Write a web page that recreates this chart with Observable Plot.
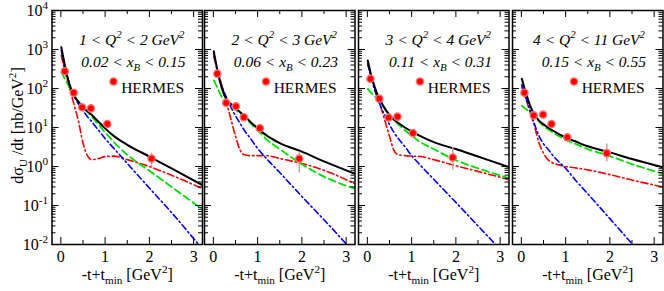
<!DOCTYPE html>
<html><head><meta charset="utf-8">
<script src="https://cdn.jsdelivr.net/npm/d3@7"></script>
<script src="https://cdn.jsdelivr.net/npm/@observablehq/plot@0.6"></script>
<style>
html,body{margin:0;padding:0;background:#fff;}
#chart{position:relative;width:664px;height:291px;overflow:hidden;background:#fff;}
#chart svg{position:absolute;top:0;}
#chart svg text{font-family:"Liberation Serif","Times New Roman",serif;}
</style></head><body><div id="chart"></div>
<script>
// ---------- data ----------
const tGrid = [0.01, 0.1, 0.2, 0.3, 0.4, 0.5, 0.6, 0.7, 0.85, 1.0, 1.2, 1.5, 2.0, 2.5, 3.2];

const q2Labels = ["1 < Q^{2} < 2 GeV^{2}", "2 < Q^{2} < 3 GeV^{2}", "3 < Q^{2} < 4 GeV^{2}", "4 < Q^{2} < 11 GeV^{2}"];
const xbLabels = ["0.02 < x_{B} < 0.15", "0.06 < x_{B} < 0.23", "0.11 < x_{B} < 0.31", "0.15 < x_{B} < 0.55"];

// solid black curve
const total1 = [1150, 350, 120, 65, 45, 34, 26, 21, 14, 9.5, 6, 3.6, 1.8, 0.9, 0.33];
const total2 = [900, 260, 95, 52, 40, 32, 25, 20, 13.5, 9.5, 6.3, 4.0, 2.4, 1.35, 0.65];
const total3 = [520, 190, 85, 48, 30, 21, 16, 13, 10, 8, 6, 4.2, 2.8, 1.8, 0.97];
const total4 = [178, 80, 36, 21, 15, 12, 10, 8.5, 6.8, 5.5, 4.5, 3.3, 2.3, 1.55, 0.95];
// green dashed curve
const green1 = [260, 170, 105, 68, 46, 34, 25, 19, 12, 7.5, 4.2, 2.0, 0.78, 0.3, 0.08];
const green2 = [160, 100, 58, 44, 36, 29, 23, 18, 12.5, 8.5, 5, 2.8, 1.15, 0.55, 0.27];
const green3 = [98, 75, 57, 42, 30, 21, 15.5, 12, 8.5, 6.2, 4.2, 2.8, 1.45, 0.9, 0.5];
const green4 = [36, 30, 23, 18.5, 14, 11, 9, 7.6, 6, 4.8, 3.9, 2.8, 1.85, 1.15, 0.65];
// blue dash-dotted curve
const blue1 = [950, 300, 130, 65, 40, 27, 19, 14, 8.5, 5.2, 2.9, 1.2, 0.28, 0.066, 0.0075];
const blue2 = [800, 250, 110, 58, 33, 20, 13, 8.5, 5, 2.9, 1.6, 0.7, 0.17, 0.043, 0.0058];
const blue3 = [430, 160, 70, 35, 20, 12, 7.5, 5.2, 3.2, 1.9, 1.07, 0.47, 0.12, 0.03, 0.0043];
const blue4 = [125, 60, 27, 12, 6, 3.8, 2.8, 2.0, 1.3, 0.9, 0.48, 0.2, 0.046, 0.0105, 0.0014];
// red dash-dotted curve
const red1 = [700, 260, 100, 38, 14, 4, 1.9, 1.5, 1.6, 1.8, 1.85, 1.5, 1.0, 0.6, 0.27];
const red2 = [650, 290, 110, 42, 16, 6, 2.7, 2.0, 1.9, 1.9, 1.9, 1.6, 1.2, 0.8, 0.36];
const red3 = [400, 195, 82, 35, 14.5, 6, 2.6, 2.0, 1.9, 1.85, 1.8, 1.5, 1.05, 0.75, 0.46];
const red4 = [110, 55, 24, 10.5, 4, 2.2, 1.5, 1.25, 1.1, 1.0, 0.93, 0.82, 0.62, 0.45, 0.3];

// HERMES points
const hermesT1 = [0.09, 0.29, 0.48, 0.68, 1.05, 2.05];
const hermesV1 = [277, 78, 33, 31, 12.3, 1.6];
const hermesT2 = [0.09, 0.29, 0.51, 0.69, 1.05, 1.94];
const hermesV2 = [240, 43, 35, 18.3, 9.6, 1.6];
const hermesT3 = [0.07, 0.27, 0.48, 0.68, 1.03, 1.93];
const hermesV3 = [178, 55, 18, 19, 7.2, 1.7];
const hermesT4 = [0.07, 0.28, 0.49, 0.68, 1.04, 1.93];
const hermesV4 = [78, 20.5, 21.5, 12.3, 5.6, 2.2];
// error bars (low, high) of the last point in each panel
const errLow = [0.96, 0.68, 0.8, 1.3];
const errHigh = [2.2, 2.35, 3.1, 3.8];

// axis ticks
const xMajorTicks = [0, 1, 2, 3];
const xMinorTicks = [0.5, 1.5, 2.5];
const yMajorTicks = [0.01, 0.1, 1, 10, 100, 1000, 10000];
const yMinorTicks = d3.range(-2, 4).flatMap(k => d3.range(2, 10).map(m => m * Math.pow(10, k)));

const xLabel = "-t+t_{min} [GeV^{2}]";
const yLabel = "dσ_{U} /dt [nb/GeV^{2}]";

// ---------- layout ----------
const frameLefts = [51.5, 204.2, 357.8, 511.6];
const FW = 150.5, MT = 10, MB = 47, H = 291, FH = H - MT - MB;
const FONT = "Liberation Serif";

const panels = [
  {total: total1, green: green1, blue: blue1, red: red1, ht: hermesT1, hv: hermesV1},
  {total: total2, green: green2, blue: blue2, red: red2, ht: hermesT2, hv: hermesV2},
  {total: total3, green: green3, blue: blue3, red: red3, ht: hermesT3, hv: hermesV3},
  {total: total4, green: green4, blue: blue4, red: red4, ht: hermesT4, hv: hermesV4}
];

function richify(svg) {
  for (const t of svg.querySelectorAll("text")) {
    const s = t.textContent;
    if (!/[\^_]\{/.test(s)) continue;
    const holder = t.closest("[font-size]");
    const fs = holder ? parseFloat(holder.getAttribute("font-size")) : 16;
    const small = fs * 0.7;
    t.textContent = "";
    let off = 0, m;
    const re = /([\^_])\{([^}]*)\}|([^\^_]+)/g;
    while ((m = re.exec(s))) {
      const ts = document.createElementNS("http://www.w3.org/2000/svg", "tspan");
      let target;
      if (m[3] !== undefined) { ts.textContent = m[3]; target = 0; }
      else { ts.textContent = m[2]; ts.setAttribute("font-size", small); target = m[1] === "^" ? -0.42 * fs : 0.3 * fs; }
      const d = target - off;
      if (d) ts.setAttribute("dy", d.toFixed(2));
      off = target;
      t.appendChild(ts);
    }
  }
}

const chart = document.getElementById("chart");
panels.forEach((p, i) => {
  const svgLeft = i === 0 ? 0 : frameLefts[i] - 2;
  const mL = frameLefts[i] - svgLeft, mR = 2;
  const width = mL + FW + mR;
  const curve = (vals) => tGrid.map((t, j) => ({t, v: vals[j]}));
  const pts = p.ht.map((t, j) => ({t, v: p.hv[j]}));
  const err = [{t: p.ht[p.ht.length - 1], lo: errLow[i], hi: errHigh[i]}];
  const txt = {fontFamily: FONT};
  const marks = [
    Plot.line(curve(p.red), {x: "t", y: "v", stroke: "#ff0000", strokeWidth: 1.6, strokeDasharray: "7,3,1.5,3", curve: "monotone-x", clip: true}),
    Plot.line(curve(p.blue), {x: "t", y: "v", stroke: "#0000ff", strokeWidth: 1.6, strokeDasharray: "6,3,1.5,3", curve: "monotone-x", clip: true}),
    Plot.line(curve(p.green), {x: "t", y: "v", stroke: "#00dd00", strokeWidth: 1.8, strokeDasharray: "7,4", curve: "monotone-x", clip: true}),
    Plot.line(curve(p.total), {x: "t", y: "v", stroke: "black", strokeWidth: 2, curve: "monotone-x", clip: true}),
    Plot.ruleX(err, {x: "t", y1: "lo", y2: "hi", stroke: "#c9a0a0", strokeWidth: 1.5}),
    Plot.dot(pts, {x: "t", y: "v", r: 3.6, fill: "#ff0000", stroke: "#ff7070", strokeWidth: 1.4}),
    Plot.frame({stroke: "black", strokeWidth: 1.5}),
    // inward ticks
    Plot.tickY(yMajorTicks, {y: d => d, insetRight: FW - 7, stroke: "black"}),
    Plot.tickY(yMajorTicks, {y: d => d, insetLeft: FW - 7, stroke: "black"}),
    Plot.tickY(yMinorTicks, {y: d => d, insetRight: FW - 4, stroke: "black"}),
    Plot.tickY(yMinorTicks, {y: d => d, insetLeft: FW - 4, stroke: "black"}),
    Plot.tickX(xMajorTicks, {x: d => d, insetTop: FH - 7, stroke: "black"}),
    Plot.tickX(xMajorTicks, {x: d => d, insetBottom: FH - 7, stroke: "black"}),
    Plot.tickX(xMinorTicks, {x: d => d, insetTop: FH - 4, stroke: "black"}),
    Plot.tickX(xMinorTicks, {x: d => d, insetBottom: FH - 4, stroke: "black"}),
    Plot.axisX({ticks: xMajorTicks, tickSize: 0, tickPadding: 6, label: null, tickFormat: d => String(d), fontSize: 16, ...txt}),
    Plot.text([xLabel], {frameAnchor: "bottom", textAnchor: "middle", dy: 35, text: d => d, fontSize: 16, ...txt}),
    Plot.text([q2Labels[i]], {frameAnchor: "top-right", textAnchor: "end", dx: -18, dy: 23, text: d => d, fontSize: 15.5, fontStyle: "italic", ...txt}),
    Plot.text([xbLabels[i]], {frameAnchor: "top-right", textAnchor: "end", dx: -17, dy: 45, text: d => d, fontSize: 15.5, fontStyle: "italic", ...txt}),
    Plot.dot([0], {frameAnchor: "top-right", dx: -89, dy: 71, r: 3.6, fill: "#ff0000", stroke: "#ff7070", strokeWidth: 1.4}),
    Plot.text(["HERMES"], {frameAnchor: "top-right", textAnchor: "end", dx: -18.5, dy: 71, text: d => d, fontSize: 15.5, ...txt})
  ];
  if (i === 0) {
    marks.push(Plot.axisY({ticks: yMajorTicks, tickSize: 0, tickPadding: 4, label: null,
      tickFormat: d => "10^{" + Math.round(Math.log10(d)) + "}", fontSize: 16, ...txt}));
    marks.push(Plot.text([yLabel], {frameAnchor: "left", textAnchor: "middle", rotate: -90, dx: -34.5, dy: -2, text: d => d, fontSize: 16, ...txt}));
  }
  const svg = Plot.plot({
    width, height: H, marginLeft: mL, marginRight: mR, marginTop: MT, marginBottom: MB,
    style: {fontFamily: FONT, fontSize: "16px", color: "black", background: "transparent", overflow: "visible"},
    x: {domain: [-0.2, 3.2]},
    y: {type: "log", domain: [0.01, 1e4], axis: i === 0 ? undefined : null},
    marks
  });
  svg.setAttribute("font-family", FONT);
  richify(svg);
  svg.style.left = svgLeft + "px";
  chart.appendChild(svg);
});
</script>
</body></html>
